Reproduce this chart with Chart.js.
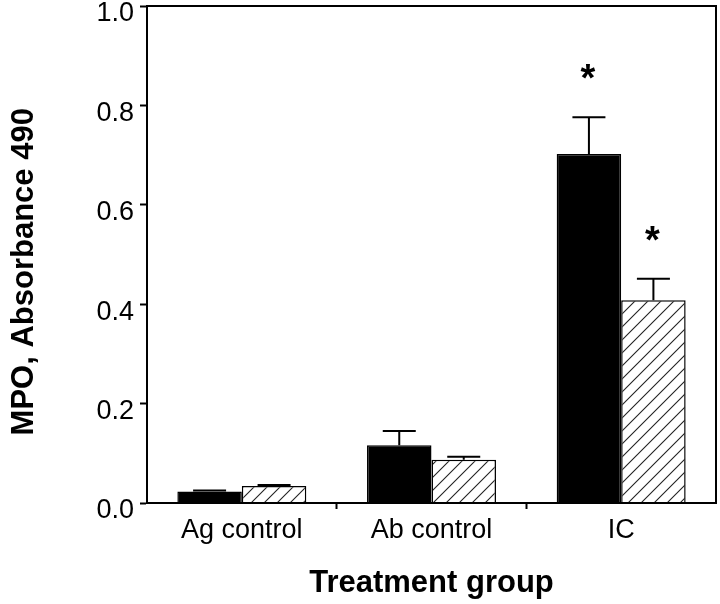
<!DOCTYPE html>
<html>
<head>
<meta charset="utf-8">
<script src="https://cdn.jsdelivr.net/npm/chart.js@4.4.0/dist/chart.umd.min.js"></script>
<style>
  html, body { margin: 0; padding: 0; background: #fff; }
  #wrap { width: 720px; height: 604px; }
</style>
</head>
<body>
<div id="wrap"><canvas id="mpoChart" width="720" height="604"></canvas></div>
<script>
// values
const categories = ["Ag control", "Ab control", "IC"];
const solidValues = [0.023, 0.116, 0.702];
const solidErrors = [0.002, 0.029, 0.074];
const hatchValues = [0.034, 0.087, 0.408];
const hatchErrors = [0.002, 0.006, 0.043];
const solidMarks = ["", "", "*"];
const hatchMarks = ["", "", "*"];
const yTicks = [0, 0.2, 0.4, 0.6, 0.8, 1.0];

const FONT = "'Liberation Sans', Arial, Helvetica, sans-serif";

function makeHatch() {
  const s = 13;
  const c = document.createElement("canvas");
  c.width = s;
  c.height = s;
  const g = c.getContext("2d");
  g.fillStyle = "#fff";
  g.fillRect(0, 0, s, s);
  g.strokeStyle = "#222";
  g.lineWidth = 1.1;
  g.beginPath();
  g.moveTo(0, s); g.lineTo(s, 0);
  g.moveTo(-s / 2, s / 2); g.lineTo(s / 2, -s / 2);
  g.moveTo(s / 2, s * 1.5); g.lineTo(s * 1.5, s / 2);
  g.stroke();
  return g.createPattern(c, "repeat");
}

// upward error bars + significance stars
const errorBars = {
  id: "errorBars",
  afterDatasetsDraw(chart) {
    const ctx = chart.ctx;
    const yScale = chart.scales.y;
    ctx.save();
    chart.data.datasets.forEach((ds, i) => {
      const meta = chart.getDatasetMeta(i);
      meta.data.forEach((bar, j) => {
        const base = yScale.getPixelForValue(ds.data[j]);
        const top = yScale.getPixelForValue(ds.data[j] + ds.errors[j]);
        ctx.strokeStyle = "#000";
        ctx.lineWidth = 2;
        ctx.beginPath();
        ctx.moveTo(bar.x, base);
        ctx.lineTo(bar.x, top);
        ctx.moveTo(bar.x - 16.5, top);
        ctx.lineTo(bar.x + 16.5, top);
        ctx.stroke();
        if (ds.marks[j]) {
          ctx.fillStyle = "#000";
          ctx.font = "bold 38px " + FONT;
          ctx.textAlign = "center";
          ctx.textBaseline = "alphabetic";
          ctx.fillText(ds.marks[j], bar.x - 1, top - 48 + 0.57 * 38);
        }
      });
    });
    ctx.restore();
  }
};

// box round the plot area
const frame = {
  id: "frame",
  afterDraw(chart) {
    const a = chart.chartArea;
    const ctx = chart.ctx;
    ctx.save();
    ctx.strokeStyle = "#000";
    ctx.lineWidth = 2;
    ctx.strokeRect(a.left, a.top, a.right - a.left, a.bottom - a.top);
    ctx.restore();
  }
};

const ctx = document.getElementById("mpoChart").getContext("2d");
new Chart(ctx, {
  type: "bar",
  data: {
    labels: categories,
    datasets: [
      {
        data: solidValues,
        errors: solidErrors,
        marks: solidMarks,
        backgroundColor: "#000",
        borderColor: "#000",
        borderWidth: 1.5
      },
      {
        data: hatchValues,
        errors: hatchErrors,
        marks: hatchMarks,
        backgroundColor: makeHatch(),
        borderColor: "#000",
        borderWidth: 1.5
      }
    ]
  },
  options: {
    responsive: false,
    animation: false,
    categoryPercentage: 0.68,
    barPercentage: 1.0,
    layout: { padding: { top: 6, right: 4, bottom: 0, left: 0 } },
    plugins: {
      legend: { display: false },
      tooltip: { enabled: false }
    },
    scales: {
      x: {
        offset: true,
        grid: {
          drawOnChartArea: false,
          offset: true,
          tickLength: 6,
          tickWidth: 2,
          // only the ticks between groups, not the two ends
          tickColor: c => (c.type === "tick" && c.index > 0) ? "#000" : "rgba(0,0,0,0)"
        },
        border: { color: "#000", width: 2 },
        ticks: { color: "#000", font: { family: FONT, size: 27 }, padding: 5 },
        title: {
          display: true,
          text: "Treatment group",
          color: "#000",
          font: { family: FONT, size: 31, weight: "bold" },
          padding: { top: 10, bottom: 2 }
        },
        afterFit(scale) { scale.height = 101; }
      },
      y: {
        min: 0,
        max: 1,
        afterBuildTicks(scale) { scale.ticks = yTicks.map(v => ({ value: v })); },
        grid: { drawOnChartArea: false, tickLength: 7, tickWidth: 2, tickColor: "#000" },
        border: { color: "#000", width: 2 },
        ticks: {
          color: "#000",
          font: { family: FONT, size: 27 },
          padding: 6,
          labelOffset: 8,
          callback: v => Number(v).toFixed(1)
        },
        title: {
          display: true,
          text: "MPO, Absorbance 490    ",
          color: "#000",
          font: { family: FONT, size: 31, weight: "bold" },
          padding: { top: 6, bottom: 0 }
        },
        afterFit(scale) {
          scale.width = 147;
          scale.paddingTop = 0;
          scale.paddingBottom = 0;
        }
      }
    }
  },
  plugins: [errorBars, frame]
});
</script>
</body>
</html>
